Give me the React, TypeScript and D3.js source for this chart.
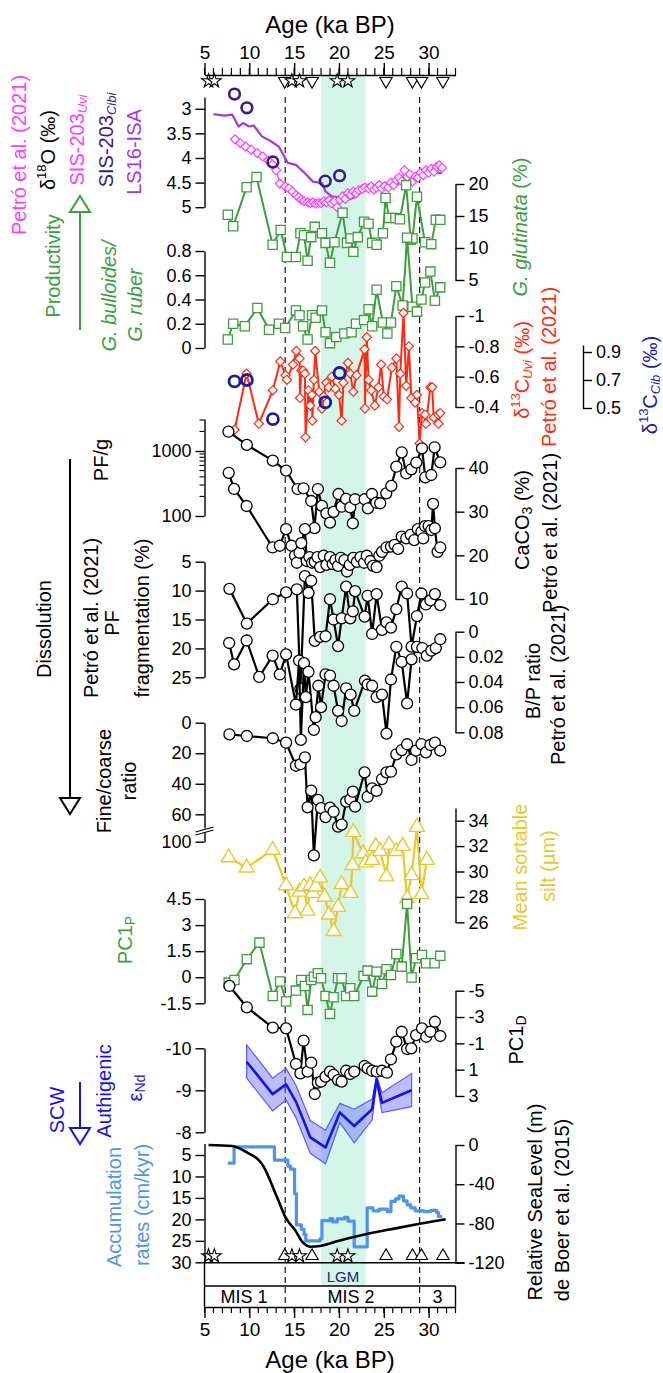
import React, { useEffect, useRef } from "react"
import * as d3 from "d3"

const FONT = "'Liberation Sans', Arial, Helvetica, sans-serif"

// ---- age axis / annotations ----
const ageMajor = [5, 10, 15, 20, 25, 30]
const ageMinor = [5, 6, 7, 8, 9, 10, 11, 12, 13, 14, 15, 16, 17, 18, 19, 20, 21, 22, 23, 24, 25, 26, 27, 28, 29, 30, 31, 32, 33]
const starAge = [5.45, 6.1, 14.75, 15.6, 19.8, 21.0]
const triAge = [13.95, 17.0, 25.25, 28.2, 29.2, 31.6]
const boundAge = [14, 29]
const lgm = [18, 23]
const misLabel = ["MIS 1", "MIS 2", "3"]
const misAge = [9.4, 21.35, 31.0]

// ---- d18O ----
const isaAge = [6.0, 7.2, 8.1, 8.8, 9.3, 10.0, 10.5, 11.4, 12.4, 13.3, 14.3, 15.2, 16.2, 17.1, 18.1, 18.5, 19.2, 20.0, 21.0, 22.0, 22.8, 23.7, 24.4, 25.3, 26.1, 27.0, 27.5, 28.2, 28.9, 29.9, 30.8, 31.5]
const isaD18O = [3.11, 3.14, 3.12, 3.36, 3.29, 3.36, 3.34, 3.56, 3.66, 3.77, 4.1, 4.14, 4.31, 4.48, 4.51, 4.68, 4.78, 4.8, 4.85, 4.78, 4.62, 4.55, 4.62, 4.58, 4.55, 4.5, 4.48, 4.42, 4.38, 4.31, 4.3, 4.31]
const uviAge18 = [8.4, 9.0, 9.6, 10.2, 10.9, 11.5, 12.1, 12.6, 13.0, 13.4, 14.0, 14.4, 14.8, 15.2, 15.5, 15.8, 16.1, 16.5, 16.8, 17.1, 17.4, 17.7, 18.0, 18.3, 18.6, 18.9, 19.2, 19.5, 19.8, 20.1, 20.4, 20.7, 21.0, 21.3, 21.6, 21.9, 22.2, 22.6, 22.9, 23.3, 23.6, 23.9, 24.2, 24.5, 24.8, 25.1, 25.5, 25.8, 26.1, 26.4, 26.7, 27.0, 27.3, 27.6, 27.9, 28.2, 28.5, 28.8, 29.1, 29.4, 29.7, 30.0, 30.3, 30.6, 30.9, 31.2, 31.5]
const uviD18O = [3.62, 3.7, 3.77, 3.83, 3.9, 3.97, 4.05, 4.13, 4.25, 4.52, 4.58, 4.62, 4.68, 4.75, 4.8, 4.85, 4.88, 4.9, 4.92, 4.9, 4.93, 4.91, 4.92, 4.88, 4.9, 4.86, 4.92, 4.88, 5.0, 4.85, 4.78, 4.83, 4.72, 4.75, 4.68, 4.72, 4.65, 4.63, 4.6, 4.62, 4.58, 4.64, 4.6, 4.55, 4.62, 4.57, 4.6, 4.5, 4.55, 4.45, 4.4, 4.47, 4.25, 4.38, 4.33, 4.48, 4.38, 4.4, 4.3, 4.35, 4.25, 4.3, 4.22, 4.28, 4.18, 4.15, 4.2]
const cibAge = [8.35, 9.73, 12.63, 18.47, 20.07]
const cibD18O = [2.7, 2.98, 4.08, 4.47, 4.36]
const cibD13C = [0.69, 0.7, 0.42, 0.54, 0.75]

// ---- productivity ----
const glutAge = [7.6, 8.2, 9.7, 10.8, 12.6, 13.5, 14.2, 15.2, 15.7, 16.1, 16.5, 16.9, 17.3, 18.1, 18.5, 19.0, 19.5, 20.4, 20.9, 21.3, 21.6, 22.1, 22.8, 23.3, 23.7, 24.2, 24.9, 25.2, 25.6, 26.3, 26.8, 27.5, 28.0, 28.2, 28.7, 29.6, 30.3, 30.8, 31.3]
const glut = [15.2, 13.4, 19.5, 21.1, 10.5, 12.8, 8.6, 8.6, 12.3, 12.0, 8.0, 11.7, 13.3, 12.3, 10.8, 7.7, 10.9, 15.5, 10.8, 11.5, 9.4, 11.7, 14.1, 13.8, 10.8, 10.5, 12.3, 17.8, 14.7, 14.7, 14.5, 19.8, 11.3, 11.5, 18.0, 10.9, 10.6, 14.4, 14.4]
const bullAge = [7.6, 8.2, 9.5, 10.9, 12.2, 13.3, 14.0, 15.2, 15.6, 16.0, 16.5, 17.0, 17.4, 18.1, 18.5, 19.0, 19.7, 20.6, 21.4, 21.9, 22.8, 23.3, 23.7, 24.2, 24.9, 25.4, 25.8, 26.4, 27.1, 27.6, 28.2, 28.7, 29.2, 29.6, 30.2, 30.7, 31.3]
const bull = [0.07, 0.2, 0.18, 0.33, 0.15, 0.2, 0.165, 0.31, 0.27, 0.18, 0.07, 0.27, 0.25, 0.31, 0.13, 0.04, 0.09, 0.12, 0.13, 0.2, 0.23, 0.32, 0.18, 0.48, 0.21, 0.12, 0.21, 0.51, 0.35, 0.91, 0.34, 0.3, 0.4, 0.54, 0.63, 0.39, 0.5]

// ---- d13C Uvi ----
const redAge = [8.36, 9.69, 11.06, 12.62, 13.45, 14.04, 14.2, 14.87, 15.24, 15.6, 15.65, 15.8, 16.0, 16.2, 16.27, 16.6, 16.8, 16.98, 17.03, 17.2, 17.35, 17.8, 18.1, 18.3, 18.6, 18.85, 19.2, 19.6, 20.0, 20.3, 20.5, 21.0, 21.26, 21.6, 21.95, 22.86, 22.9, 23.1, 23.3, 23.6, 24.0, 24.4, 24.7, 25.0, 25.36, 25.9, 26.4, 26.7, 26.84, 27.2, 27.5, 27.8, 28.07, 28.5, 28.7, 29.0, 29.26, 29.6, 29.7, 30.2, 30.4, 30.57, 31.05, 31.1, 31.3]
const redD13C = [-0.25, -0.62, -0.29, -0.51, -0.7, -0.61, -0.58, -0.68, -0.77, -0.72, -0.46, -0.64, -0.64, -0.62, -0.2, -0.51, -0.41, -0.48, -0.31, -0.58, -0.77, -0.5, -0.39, -0.47, -0.56, -0.53, -0.6, -0.52, -0.48, -0.31, -0.56, -0.69, -0.62, -0.5, -0.61, -0.78, -0.39, -0.86, -0.58, -0.51, -0.41, -0.53, -0.68, -0.47, -0.45, -0.66, -0.72, -0.27, -0.62, -1.02, -0.54, -0.8, -0.46, -0.43, -0.48, -0.16, -0.36, -0.35, -0.29, -0.53, -0.53, -0.33, -0.35, -0.29, -0.36]

// ---- dissolution ----
const pfAge = [7.67, 9.72, 12.62, 14.1, 15.38, 16.05, 16.9, 17.27, 17.65, 18.1, 18.6, 19.0, 19.4, 19.95, 20.3, 20.8, 21.26, 21.55, 21.8, 22.86, 23.23, 23.68, 24.16, 24.6, 25.28, 25.84, 26.4, 27.0, 27.5, 28.07, 28.63, 29.26, 29.63, 30.3, 30.67, 31.3]
const pfPerG = [1980, 1240, 710, 500, 260, 267, 170, 65, 260, 143, 110, 79, 116, 218, 139, 183, 136, 77, 181, 181, 131, 218, 160, 157, 223, 290, 573, 955, 454, 523, 661, 1100, 394, 427, 1140, 670]
const caAge = [7.7, 8.3, 9.7, 12.6, 13.4, 14.1, 14.7, 15.1, 15.3, 15.6, 15.8, 16.2, 16.4, 16.7, 17.0, 17.3, 17.6, 17.9, 18.3, 18.6, 19.0, 19.3, 19.6, 19.9, 20.2, 20.6, 20.9, 21.2, 21.6, 22.0, 22.4, 22.8, 23.1, 23.5, 23.8, 24.2, 24.5, 24.8, 25.3, 25.8, 26.2, 26.6, 27.0, 27.5, 28.0, 28.4, 28.8, 29.2, 29.4, 29.6, 30.0, 30.3, 30.5, 30.7, 31.0, 31.3]
const caco3 = [38.9, 35.2, 31.3, 21.8, 22.2, 26.0, 22.2, 19.9, 18.3, 20.6, 22.8, 26.0, 18.7, 19.6, 18.3, 18.5, 19.6, 17.3, 19.9, 17.8, 19.6, 18.0, 18.9, 17.6, 19.4, 18.9, 16.3, 17.8, 19.4, 18.5, 19.6, 18.3, 19.9, 18.7, 17.6, 17.3, 19.9, 20.8, 21.8, 22.0, 22.4, 21.5, 24.3, 23.9, 24.7, 23.5, 26.0, 25.4, 23.9, 26.7, 26.7, 25.8, 31.8, 26.2, 20.8, 21.8]
const frAge = [7.78, 9.72, 12.62, 14.1, 15.3, 15.7, 16.2, 16.6, 16.9, 17.3, 17.9, 18.5, 19.0, 19.4, 19.9, 20.3, 20.8, 21.26, 21.55, 21.8, 22.86, 23.2, 23.7, 24.2, 24.8, 25.3, 25.8, 26.4, 27.0, 27.6, 28.1, 28.7, 29.2, 29.7, 30.2, 30.7, 31.3]
const frag = [9.7, 15.7, 11.5, 10.3, 9.8, 27, 7.5, 10.4, 8.3, 18.7, 18.0, 17.9, 11.5, 15.0, 19.6, 14.8, 9.3, 14.8, 13.6, 10.1, 14.5, 10.9, 17.5, 10.6, 16.8, 15.5, 16.4, 13.2, 9.3, 10.5, 19.7, 14.4, 10.5, 12.4, 11.7, 10.6, 12.5]
const bpAge = [7.75, 8.3, 9.7, 11.1, 12.6, 13.4, 14.1, 15.2, 15.55, 15.75, 16.1, 16.3, 16.6, 17.2, 17.4, 17.7, 18.0, 18.5, 19.0, 19.4, 19.9, 20.3, 20.8, 21.3, 21.7, 22.9, 23.2, 23.7, 24.2, 24.8, 25.3, 25.8, 26.4, 27.0, 27.6, 28.1, 28.7, 29.3, 29.8, 30.3, 30.8, 31.3]
const bpRatio = [0.009, 0.026, 0.007, 0.036, 0.019, 0.034, 0.018, 0.058, 0.023, 0.086, 0.025, 0.052, 0.032, 0.078, 0.068, 0.043, 0.06, 0.034, 0.035, 0.043, 0.063, 0.071, 0.045, 0.05, 0.063, 0.039, 0.042, 0.043, 0.052, 0.05, 0.081, 0.038, 0.012, 0.024, 0.057, 0.022, 0.012, 0.013, 0.019, 0.015, 0.013, 0.006]
const fcAge = [7.78, 9.72, 12.62, 14.1, 15.2, 15.7, 16.2, 16.5, 16.9, 17.2, 17.65, 18.0, 18.5, 19.0, 19.4, 19.9, 20.3, 20.8, 21.26, 21.55, 21.8, 22.86, 23.2, 23.7, 24.2, 24.8, 25.3, 25.8, 26.4, 27.0, 27.6, 28.1, 28.6, 29.2, 29.7, 30.2, 30.7, 31.3]
const fineCoarse = [7.6, 8.7, 10.2, 13.1, 28.2, 27.2, 22.7, 55.4, 44.5, 120, 50.6, 56, 64, 55.6, 58.3, 78, 75, 51.7, 50.2, 45.2, 55, 32.5, 48.5, 43, 44.7, 36.9, 32.5, 32.1, 20.7, 17.9, 14.1, 24.4, 18.3, 14, 19.4, 14.6, 13.1, 18.3]

// ---- sortable silt ----
const siltAge = [7.7, 9.7, 12.6, 14.1, 15.1, 15.6, 16.1, 16.5, 16.8, 17.1, 17.4, 17.9, 18.4, 18.9, 19.4, 19.9, 20.3, 21.3, 21.5, 21.6, 22.7, 23.0, 23.7, 24.1, 24.6, 25.3, 25.6, 26.4, 27.1, 27.6, 28.1, 28.7, 29.2, 29.8]
const silt = [31.1, 30.3, 31.7, 28.9, 26.7, 28.4, 28.8, 26.9, 28.9, 28.3, 28.8, 29.5, 28.0, 26.6, 25.3, 27.2, 29.0, 28.3, 30.5, 33.1, 31.4, 30.7, 30.9, 32.0, 31.6, 29.6, 32.1, 31.6, 32.0, 27.9, 29.7, 33.5, 28.2, 30.9]

// ---- PC1 ----
const pcpAge = [7.7, 8.34, 9.72, 11.13, 12.62, 13.44, 14.1, 15.2, 15.8, 16.2, 16.5, 16.9, 17.2, 17.65, 18.0, 18.5, 19.0, 19.4, 19.9, 20.3, 20.8, 21.26, 21.7, 22.75, 23.2, 23.7, 24.2, 24.8, 25.3, 25.8, 26.4, 27.0, 27.6, 28.1, 28.6, 29.26, 29.7, 30.67, 31.3]
const pc1P = [-0.31, -0.16, 1.04, 1.99, -1.08, -0.25, -1.4, -0.77, -0.16, -0.5, -1.88, -0.16, 0.03, 0.23, -0.06, -1.08, -2.11, -1.15, -0.06, -0.06, -1.08, -0.63, -1.08, 0.07, 0.38, -0.83, 0.32, -0.39, 0.46, 0.13, 1.34, 0.61, 4.22, -0.02, 1.09, 1.28, 0.8, 0.8, 1.23]
const pcdAge = [7.78, 9.72, 12.62, 14.1, 15.2, 15.7, 16.05, 16.5, 16.9, 17.3, 17.65, 18.0, 18.5, 19.0, 19.4, 19.9, 20.3, 20.8, 21.26, 21.7, 22.86, 23.2, 23.7, 24.2, 24.8, 25.35, 25.8, 26.4, 27.0, 27.6, 28.07, 28.6, 29.26, 29.74, 30.2, 30.7, 31.3]
const pc1D = [-5.36, -3.74, -2.19, -2.14, 0.57, 1.28, -1.2, 1.15, 0.47, 2.85, 1.99, 1.91, 1.53, 1.15, 1.4, 1.79, 1.91, 1.08, 1.33, 1.15, 0.72, 0.9, 1.08, 1.15, 1.08, 1.23, 0.21, -1.13, -1.88, -0.57, -0.62, -1.63, -2.14, -1.5, -1.88, -2.64, -1.56]

// ---- eNd ----
const ndAge = [9.7, 12.6, 14.1, 15.2, 16.8, 18.5, 20.1, 21.7, 23.7, 24.2, 24.8, 28.1]
const eNd = [-9.68, -8.91, -9.14, -8.73, -7.88, -7.64, -8.47, -8.15, -8.55, -9.26, -8.7, -9.0]
const eNdHi = [-10.08, -9.29, -9.52, -9.12, -8.28, -8.05, -8.69, -8.55, -8.79, -9.34, -8.94, -9.4]
const eNdLo = [-9.29, -8.51, -8.77, -8.35, -7.5, -7.25, -8.23, -7.75, -8.29, -9.18, -8.47, -8.61]

// ---- accumulation & sea level ----
const accAge = [7.6, 8.3, 12.8, 14.3, 14.6, 15.05, 15.25, 15.8, 16.1, 16.3, 17.9, 18.1, 19.0, 19.3, 19.8, 20.6, 21.0, 21.7, 23.15, 23.8, 24.5, 25.4, 25.8, 26.3, 26.7, 27.2, 27.6, 28.0, 28.5, 29.5, 30.2, 30.9, 31.1, 31.35]
const accRate = [6.9, 3.1, 6.2, 7.6, 8.3, 14.0, 21.3, 22.3, 23.5, 25.0, 24.5, 20.3, 19.8, 20.6, 19.9, 19.5, 20.4, 26.4, 17.3, 18.0, 17.6, 18.2, 15.8, 15.2, 14.6, 15.7, 16.6, 17.3, 18.0, 18.2, 17.9, 18.4, 19.3, 19.6]
const slAge = [5.45, 8.05, 9.9, 11.0, 11.6, 12.3, 12.8, 13.3, 14.0, 14.5, 15.1, 15.9, 16.8, 17.9, 20.0, 22.6, 26.3, 29.0, 31.9]
const seaLevel = [0, -1, -8.5, -15, -22, -35.7, -47, -57.8, -73, -80, -86.6, -98.6, -103.7, -103, -97.5, -91.7, -85, -80.3, -75.7]

// colours
const MAG = "#ff3cff"
const CIBI = "#3b1a8e"
const ISA = "#a436ea"
const GREEN = "#3c9e3c"
const RED = "#ff2a12"
const NAVY = "#1c1c9c"
const YEL = "#e9c82c"
const BLUE = "#1414e6"
const ACC = "#4d94f0"

const X0 = 204.5
const X1 = 455.5
const XR2 = 583
const TICK_FS = 18
const LAB_FS = 20
const x = d3.scaleLinear().domain([5, 33]).range([X0, X1])

const lin = (v: number[], p: number[]) => d3.scaleLinear().domain(v).range(p)

type Opt = { color: string; lw?: number; sym?: any; size?: number; rot?: number; sw?: number; fill?: string; curve?: any }

function series(g: any, ages: number[], vals: number[], y: any, o: Opt) {
  const pts = ages.map((a, i) => [x(a), y(vals[i])] as [number, number])
  if (o.lw) {
    g.append("path")
      .attr("d", d3.line().curve(o.curve || d3.curveLinear)(pts))
      .attr("fill", "none")
      .attr("stroke", o.color)
      .attr("stroke-width", o.lw)
      .attr("stroke-linejoin", "round")
  }
  if (o.sym) {
    g.append("g")
      .selectAll("path")
      .data(pts)
      .join("path")
      .attr("transform", (p: number[]) => `translate(${p[0]},${p[1]}) rotate(${o.rot || 0})`)
      .attr("d", d3.symbol(o.sym, o.size || 64)())
      .attr("fill", o.fill || "#fff")
      .attr("stroke", o.color)
      .attr("stroke-width", o.sw || 1.3)
  }
}

function yAxis(g: any, scale: any, side: string, xPos: number, ticks: number[], ext: number[] | null) {
  const s = ext ? scale.copy().domain(ext).range(ext.map((v) => scale(v))) : scale
  const ax = (side === "L" ? d3.axisLeft(s) : d3.axisRight(s))
    .tickValues(ticks)
    .tickSize(9)
    .tickSizeOuter(0)
    .tickPadding(4)
    .tickFormat((d: any) => String(d))
  const a = g.append("g").attr("transform", `translate(${xPos},0)`).call(ax)
  a.attr("font-size", TICK_FS).attr("font-family", FONT)
  a.selectAll("path,line").attr("stroke-width", 1.4)
  return a
}

const VL = ({ x, y, fill = "#000", size = LAB_FS, italic = false, children }: any) => (
  <text
    transform={`translate(${x},${y}) rotate(-90)`}
    textAnchor="middle"
    dominantBaseline="central"
    fill={fill}
    fontSize={size}
    fontStyle={italic ? "italic" : "normal"}
  >
    {children}
  </text>
)

export default function App() {
  const ref = useRef<SVGSVGElement>(null)

  useEffect(() => {
    const svg = d3.select(ref.current)
    svg.selectAll("g.dyn").remove()
    const g = svg.append("g").attr("class", "dyn")

    // top age axis
    const top = g.append("g").attr("transform", "translate(0,75)")
      .call(d3.axisTop(x).tickValues(ageMajor).tickSize(12).tickSizeOuter(0).tickPadding(4))
    top.attr("font-size", 19).attr("font-family", FONT)
    top.selectAll("path,line").attr("stroke-width", 1.4)
    g.append("g").selectAll("line").data(ageMinor).join("line")
      .attr("x1", (d: number) => x(d)).attr("x2", (d: number) => x(d))
      .attr("y1", 75).attr("y2", 68).attr("stroke", "#000").attr("stroke-width", 1.2)

    // bottom age axis
    const bot = g.append("g").attr("transform", "translate(0,1307)")
      .call(d3.axisBottom(x).tickValues(ageMajor).tickSize(11).tickSizeOuter(0).tickPadding(5))
    bot.attr("font-size", 19).attr("font-family", FONT)
    bot.selectAll("path,line").attr("stroke-width", 1.4)
    g.append("g").selectAll("line").data(ageMinor).join("line")
      .attr("x1", (d: number) => x(d)).attr("x2", (d: number) => x(d))
      .attr("y1", 1307).attr("y2", 1313).attr("stroke", "#000").attr("stroke-width", 1.2)

    // age control markers
    const markers = (yy: number, rot: number) => {
      g.append("g").selectAll("path").data(triAge).join("path")
        .attr("transform", (d: number) => `translate(${x(d)},${yy}) rotate(${rot})`)
        .attr("d", d3.symbol(d3.symbolTriangle, 66)())
        .attr("fill", "#fff").attr("stroke", "#000").attr("stroke-width", 1.1)
      g.append("g").selectAll("path").data(starAge).join("path")
        .attr("transform", (d: number) => `translate(${x(d)},${yy})`)
        .attr("d", d3.symbol(d3.symbolStar, 58)())
        .attr("fill", "#fff").attr("stroke", "#000").attr("stroke-width", 1.1)
    }
    markers(81, 180)
    markers(1256, 0)

    // d18O
    const yO = lin([3, 4.5], [108.8, 182.6])
    yAxis(g, yO, "L", X0, [3, 3.5, 4, 4.5, 5], [2.76, 5])
    series(g, isaAge, isaD18O, yO, { color: ISA, lw: 2.2 })
    series(g, uviAge18, uviD18O, yO, { color: MAG, lw: 1.4, sym: d3.symbolSquare, size: 40, rot: 45, sw: 1.2 })
    series(g, cibAge, cibD18O, yO, { color: CIBI, sym: d3.symbolCircle, size: 90, sw: 2.6, fill: "none" })

    // G. glutinata
    const yG = lin([5, 20], [280, 184])
    yAxis(g, yG, "R", X1, [5, 10, 15, 20], null)
    series(g, glutAge, glut, yG, { color: GREEN, lw: 2, sym: d3.symbolSquare, size: 85 })

    // bulloides / ruber
    const yB = lin([0, 0.8], [348, 251])
    yAxis(g, yB, "L", X0, [0, 0.2, 0.4, 0.6, 0.8], null)
    series(g, bullAge, bull, yB, { color: GREEN, lw: 2, sym: d3.symbolSquare, size: 85 })

    // d13C Uvi
    const yC = lin([-1, -0.4], [316, 407])
    yAxis(g, yC, "R", X1, [-1, -0.8, -0.6, -0.4], null)
    series(g, redAge, redD13C, yC, { color: RED, lw: 2, sym: d3.symbolSquare, size: 42, rot: 45, sw: 1.2 })

    // d13C Cib
    const yCc = lin([0.5, 0.9], [408, 352])
    yAxis(g, yCc, "R", XR2, [0.5, 0.7, 0.9], [0.5, 0.95])
    series(g, cibAge, cibD13C, yCc, { color: NAVY, sym: d3.symbolCircle, size: 95, sw: 2.8, fill: "none" })

    // PF/g (log)
    const yPF = d3.scaleLog().domain([100, 1000]).range([516, 451])
    const pfAx = d3.scaleLog().domain([100, 3100]).range([516, yPF(3100)])
    const pa = g.append("g").attr("transform", `translate(${X0},0)`)
      .call(d3.axisLeft(pfAx).tickValues([100, 1000]).tickSize(9).tickSizeOuter(0).tickPadding(4).tickFormat((d: any) => String(d)))
    pa.attr("font-size", TICK_FS).attr("font-family", FONT)
    pa.selectAll("path,line").attr("stroke-width", 1.4)
    g.append("g").selectAll("line").data([200, 300, 400, 500, 600, 700, 800, 900, 2000, 3000]).join("line")
      .attr("x1", X0).attr("x2", X0 - 5).attr("y1", (d: number) => yPF(d)).attr("y2", (d: number) => yPF(d))
      .attr("stroke", "#000").attr("stroke-width", 1.1)
    series(g, pfAge, pfPerG, yPF, { color: "#000", lw: 2.2, sym: d3.symbolCircle, size: 95 })

    // CaCO3
    const yCa = lin([10, 40], [599, 468])
    yAxis(g, yCa, "R", X1, [10, 20, 30, 40], null)
    series(g, caAge, caco3, yCa, { color: "#000", lw: 2.2, sym: d3.symbolCircle, size: 95 })

    // fragmentation
    const yFr = lin([5, 25], [561.7, 677.3])
    yAxis(g, yFr, "L", X0, [5, 10, 15, 20, 25], null)
    series(g, frAge, frag, yFr, { color: "#000", lw: 2.2, sym: d3.symbolCircle, size: 95 })

    // B/P
    const yBP = lin([0, 0.08], [631.7, 732.3])
    yAxis(g, yBP, "R", X1, [0, 0.02, 0.04, 0.06, 0.08], null)
    series(g, bpAge, bpRatio, yBP, { color: "#000", lw: 2.2, sym: d3.symbolCircle, size: 95 })

    // fine / coarse (broken axis)
    const yFC = d3.scaleLinear().domain([0, 60, 100]).range([722.7, 814.3, 841.7])
    yAxis(g, yFC, "L", X0, [0, 20, 40, 60, 100], null)
    g.append("rect").attr("x", X0 - 3).attr("y", 828.5).attr("width", 6).attr("height", 4).attr("fill", "#fff")
    g.append("line").attr("x1", X0 - 9).attr("y1", 832).attr("x2", X0 + 9).attr("y2", 827).attr("stroke", "#000").attr("stroke-width", 1.2)
    g.append("line").attr("x1", X0 - 9).attr("y1", 835).attr("x2", X0 + 9).attr("y2", 830).attr("stroke", "#000").attr("stroke-width", 1.2)
    series(g, fcAge, fineCoarse, yFC, { color: "#000", lw: 2.2, sym: d3.symbolCircle, size: 95 })

    // sortable silt
    const ySi = lin([26, 34], [922.3, 820.7])
    yAxis(g, ySi, "R", X1, [26, 28, 30, 32, 34], [26, 35])
    series(g, siltAge, silt, ySi, { color: YEL, lw: 2.2, sym: d3.symbolTriangle, size: 95, sw: 1.4 })

    // PC1P
    const yPP = lin([-1.5, 4.5], [1003.3, 899])
    yAxis(g, yPP, "L", X0, [-1.5, 0, 1.5, 3, 4.5], null)
    series(g, pcpAge, pc1P, yPP, { color: GREEN, lw: 2, sym: d3.symbolSquare, size: 85 })

    // PC1D
    const yPD = lin([-5, 3], [990.7, 1096])
    yAxis(g, yPD, "R", X1, [-5, -3, -1, 1, 3], null)
    series(g, pcdAge, pc1D, yPD, { color: "#000", lw: 2.2, sym: d3.symbolCircle, size: 95 })

    // eNd
    const yNd = lin([-10, -8], [1048.3, 1132.3])
    yAxis(g, yNd, "L", X0, [-10, -9, -8], null)
    const band = d3.area<number>()
      .x((d, i) => x(ndAge[i]))
      .y0((d, i) => yNd(eNdLo[i]))
      .y1((d, i) => yNd(eNdHi[i]))
    g.append("path").datum(eNd).attr("d", band)
      .attr("fill", "rgba(95,95,255,0.42)").attr("stroke", "#5a5aff").attr("stroke-width", 1.2)
    series(g, ndAge, eNd, yNd, { color: BLUE, lw: 2.6 })

    // accumulation rates
    const yAc = lin([5, 30], [1155, 1262.3])
    yAxis(g, yAc, "L", X0, [5, 10, 15, 20, 25, 30], [2.3, 30])
    series(g, accAge, accRate, yAc, { color: ACC, lw: 3.2, curve: d3.curveStepAfter })

    // sea level
    const ySL = lin([-120, 0], [1262.7, 1145])
    yAxis(g, ySL, "R", X1, [0, -40, -80, -120], null)
    g.append("line").attr("x1", X0).attr("x2", X1 + 9).attr("y1", ySL(-120)).attr("y2", ySL(-120))
      .attr("stroke", "#000").attr("stroke-width", 1.4)
    series(g, slAge, seaLevel, ySL, { color: "#000", lw: 2.6, curve: d3.curveMonotoneX })
  }, [])

  const arrowUp = (cx: number, y0: number, y1: number, col: string) => (
    <g stroke={col} strokeWidth={2} fill="#fff">
      <line x1={cx} x2={cx} y1={y0} y2={y1 + 16} />
      <polygon points={`${cx - 10},${y1 + 16} ${cx + 10},${y1 + 16} ${cx},${y1}`} />
    </g>
  )
  const arrowDown = (cx: number, y0: number, y1: number, col: string) => (
    <g stroke={col} strokeWidth={2} fill="#fff">
      <line x1={cx} x2={cx} y1={y0} y2={y1 - 16} />
      <polygon points={`${cx - 10},${y1 - 16} ${cx + 10},${y1 - 16} ${cx},${y1}`} />
    </g>
  )

  return (
    <svg
      ref={ref}
      width={663}
      height={1373}
      style={{ position: "absolute", left: 0, top: 0, background: "#fff" }}
      fontFamily={FONT}
    >
      <rect x={x(lgm[0])} y={76} width={x(lgm[1]) - x(lgm[0])} height={1286 - 76} fill="#d4f6e9" />
      {boundAge.map((a) => (
        <line key={a} x1={x(a)} x2={x(a)} y1={97} y2={1307} stroke="#000" strokeWidth={1.1} strokeDasharray="6,4" />
      ))}
      {/* MIS box */}
      <line x1={X0} x2={X1} y1={1286} y2={1286} stroke="#000" strokeWidth={1.4} />
      <line x1={X0} x2={X0} y1={1262} y2={1307} stroke="#000" strokeWidth={1.4} />
      <line x1={X1} x2={X1} y1={1286} y2={1307} stroke="#000" strokeWidth={1.4} />
      {misLabel.map((m, i) => (
        <text key={m} x={x(misAge[i])} y={1297} textAnchor="middle" dominantBaseline="central" fontSize={18}>
          {m}
        </text>
      ))}
      <text x={x(20.45)} y={1276} textAnchor="middle" dominantBaseline="central" fontSize={15} fill="#1a237e">
        LGM
      </text>

      {/* titles */}
      <text x={x(19)} y={24} textAnchor="middle" dominantBaseline="central" fontSize={24}>
        Age (ka BP)
      </text>
      <text x={x(19)} y={1359} textAnchor="middle" dominantBaseline="central" fontSize={24}>
        Age (ka BP)
      </text>

      {/* left labels */}
      <VL x={19} y={155} fill={MAG}>Petró et al. (2021)</VL>
      <VL x={48} y={150}>
        δ<tspan fontSize={13} dy={-7}>18</tspan>
        <tspan dy={7}>O (‰)</tspan>
      </VL>
      <VL x={77} y={140} fill={MAG}>
        SIS-203<tspan fontSize={13} fontStyle="italic" dy={5}>Uvi</tspan>
      </VL>
      <VL x={106} y={140} fill={CIBI}>
        SIS-203<tspan fontSize={13} fontStyle="italic" dy={5}>Cibi</tspan>
      </VL>
      <VL x={134} y={152} fill={ISA}>LS16-ISA</VL>
      <VL x={53} y={266} fill={GREEN}>Productivity</VL>
      {arrowUp(80, 330, 196, GREEN)}
      <VL x={109} y={296} fill={GREEN} italic>G. bulloides/</VL>
      <VL x={135} y={305} fill={GREEN} italic>G. ruber</VL>
      <VL x={101} y={460}>PF/g</VL>
      <VL x={44} y={629}>Dissolution</VL>
      {arrowDown(70, 459, 814, "#000")}
      <VL x={91} y={618}>Petró et al. (2021)</VL>
      <VL x={112} y={623}>PF</VL>
      <VL x={142} y={618}>fragmentation (%)</VL>
      <VL x={104} y={781}>Fine/coarse</VL>
      <VL x={129} y={781}>ratio</VL>
      <VL x={125} y={940} fill={GREEN}>
        PC1<tspan fontSize={14} dy={5}>P</tspan>
      </VL>
      <VL x={57} y={1110} fill={BLUE}>SCW</VL>
      {arrowDown(80, 1082, 1144, BLUE)}
      <VL x={104} y={1091} fill={BLUE}>Authigenic</VL>
      <VL x={135} y={1088} fill={BLUE}>
        ε<tspan fontSize={14} dy={5}>Nd</tspan>
      </VL>
      <VL x={114} y={1207} fill={ACC}>Accumulation</VL>
      <VL x={142} y={1205} fill={ACC}>rates (cm/kyr)</VL>

      {/* right labels */}
      <VL x={520} y={227} fill={GREEN}>
        <tspan fontStyle="italic">G. glutinata</tspan> (%)
      </VL>
      <VL x={522} y={370} fill={RED}>
        δ<tspan fontSize={13} dy={-7}>13</tspan>
        <tspan dy={7}>C</tspan>
        <tspan fontSize={13} fontStyle="italic" dy={5}>Uvi</tspan>
        <tspan dy={-5}> (‰)</tspan>
      </VL>
      <VL x={549} y={367} fill={RED}>Petró et al. (2021)</VL>
      <VL x={650} y={385} fill={NAVY}>
        δ<tspan fontSize={13} dy={-7}>13</tspan>
        <tspan dy={7}>C</tspan>
        <tspan fontSize={13} fontStyle="italic" dy={5}>Cib</tspan>
        <tspan dy={-5}> (‰)</tspan>
      </VL>
      <VL x={522} y={520}>
        CaCO<tspan fontSize={14} dy={5}>3</tspan>
        <tspan dy={-5}> (%)</tspan>
      </VL>
      <VL x={550} y={533}>Petró et al. (2021)</VL>
      <VL x={533} y={681}>B/P ratio</VL>
      <VL x={558} y={685}>Petró et al. (2021)</VL>
      <VL x={520} y={867} fill={YEL}>Mean sortable</VL>
      <VL x={548} y={866} fill={YEL}>silt (µm)</VL>
      <VL x={516} y={1040}>
        PC1<tspan fontSize={14} dy={5}>D</tspan>
      </VL>
      <VL x={535} y={1202}>Relative SeaLevel (m)</VL>
      <VL x={562} y={1210}>de Boer et al. (2015)</VL>
    </svg>
  )
}
